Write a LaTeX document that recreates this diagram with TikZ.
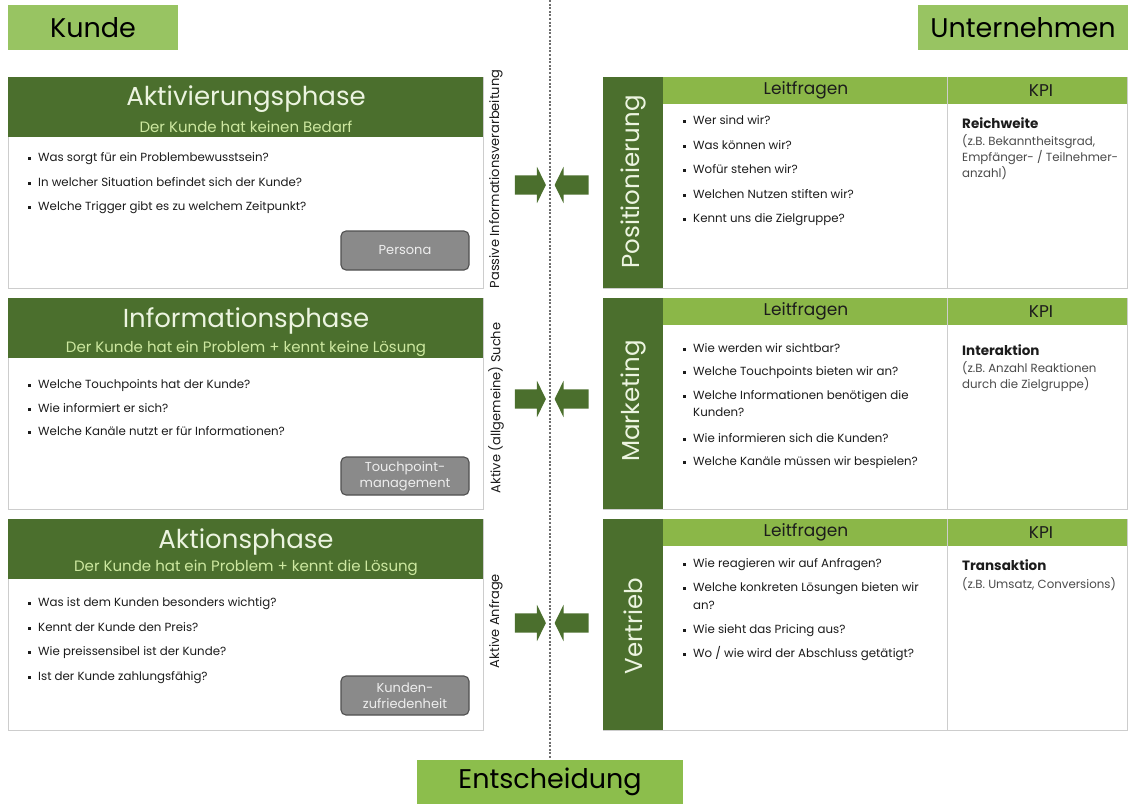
\documentclass[tikz,border=0pt]{standalone}
\usepackage{fontspec}
\setmainfont{Poppins}
\usetikzlibrary{shapes.arrows}

\definecolor{leafdark}{RGB}{75,111,45}
\definecolor{leafmid}{RGB}{139,183,72}
\definecolor{leaflight}{RGB}{152,196,98}
\definecolor{leafbtm}{RGB}{140,190,76}
\definecolor{titlepale}{RGB}{236,244,224}
\definecolor{subpale}{RGB}{205,232,160}
\definecolor{bodytext}{RGB}{28,28,28}
\definecolor{kpigray}{RGB}{75,75,75}
\definecolor{btnfill}{RGB}{138,138,138}
\definecolor{btnedge}{RGB}{80,80,80}
\definecolor{btntext}{RGB}{238,238,238}
\definecolor{frame}{RGB}{205,205,205}
\definecolor{dotline}{RGB}{110,110,110}

% small square bullet with a fixed indent
\newcommand\sq{\makebox[10pt][l]{\raisebox{2pt}{\rule{3pt}{3pt}}}}
\newcommand\ind{\hspace*{10pt}}

\begin{document}
\begin{tikzpicture}[x=1pt,y=-1pt,
  box/.style={inner sep=0pt, outer sep=0pt, anchor=north west},
  topbox/.style={box, fill=leaflight, text=black, font=\fontsize{27}{30}\selectfont},
  panel/.style={box, draw=frame, line width=0.8pt, fill=white},
  darkhead/.style={box, fill=leafdark},
  lighthead/.style={box, fill=leafmid},
  phasetitle/.style={text=titlepale, font=\fontsize{26}{29}\selectfont, inner sep=0pt},
  phasesub/.style={text=subpale, font=\fontsize{15}{17}\selectfont, inner sep=0pt},
  q/.style={anchor=west, inner sep=0pt, text=bodytext, font=\fontsize{11.8}{14}\selectfont,
            text height=8.5pt, text depth=2.7pt},
  kpihead/.style={anchor=west, inner sep=0pt, text=bodytext, font=\fontsize{13.5}{15}\selectfont\bfseries,
            text height=9.5pt, text depth=3pt},
  kpisub/.style={anchor=west, inner sep=0pt, text=kpigray, font=\fontsize{11.8}{13}\selectfont,
            text height=8.5pt, text depth=2.7pt},
  colhead/.style={text=bodytext, font=\fontsize{17}{19}\selectfont, inner sep=0pt},
  sidelabel/.style={rotate=90, text=titlepale, font=\fontsize{24.5}{27}\selectfont, inner sep=0pt},
  flowlabel/.style={rotate=90, text=bodytext, font=\fontsize{13}{15}\selectfont, inner sep=0pt},
  tagbtn/.style={box, fill=btnfill, draw=btnedge, line width=1.1pt, rounded corners=5pt,
            text=btntext, font=\fontsize{13}{16}\selectfont, align=center},
  toright/.style={single arrow, fill=leafdark, inner xsep=0pt, inner ysep=9.5pt,
            minimum height=31pt, single arrow head extend=8.5pt, single arrow tip angle=128,
            outer sep=0pt},
  toleft/.style={toright, shape border rotate=180, minimum height=34pt}
]
\useasboundingbox (0,0) rectangle (1128,804);

% divider between customer and company side
\coordinate (divtop) at (550,0);
\coordinate (divbot) at (550,760);
\draw[dotline, line width=1.2pt, dash pattern=on 2pt off 1.6pt] (divtop) -- (divbot);

% side headings
\node[topbox, minimum width=170pt, minimum height=45pt] (kunde) at (8,5) {Kunde};
\node[topbox, minimum width=210pt, minimum height=45pt] (unternehmen) at (918,5) {Unternehmen};
\node[topbox, fill=leafbtm, minimum width=266pt, minimum height=44pt] (entscheidung) at (417,760) {Entscheidung};

% ---------- customer phases ----------
\node[panel, minimum width=475pt, minimum height=211pt] (p1) at (8,77) {};
\node[darkhead, minimum width=475pt, minimum height=60pt] (p1h) at (8,77) {};
\node[phasetitle] (p1t) at (246,99) {Aktivierungsphase};
\node[phasesub] (p1s) at (246,127) {Der Kunde hat keinen Bedarf};
\node[q] (p1a) at (28,159) {\sq Was sorgt für ein Problembewusstsein?};
\node[q] (p1b) at (28,184) {\sq In welcher Situation befindet sich der Kunde?};
\node[q] (p1c) at (28,208) {\sq Welche Trigger gibt es zu welchem Zeitpunkt?};
\node[tagbtn, minimum width=128pt, minimum height=39pt] (p1btn) at (341,231) {Persona};

\node[panel, minimum width=475pt, minimum height=211pt] (p2) at (8,298) {};
\node[darkhead, minimum width=475pt, minimum height=60pt] (p2h) at (8,298) {};
\node[phasetitle] (p2t) at (246,321) {Informationsphase};
\node[phasesub] (p2s) at (246,349) {Der Kunde hat ein Problem + kennt keine Lösung};
\node[q] (p2a) at (28,386) {\sq Welche Touchpoints hat der Kunde?};
\node[q] (p2b) at (28,410) {\sq Wie informiert er sich?};
\node[q] (p2c) at (28,433) {\sq Welche Kanäle nutzt er für Informationen?};
\node[tagbtn, minimum width=128pt, minimum height=38pt] (p2btn) at (341,457) {Touchpoint-\\management};

\node[panel, minimum width=475pt, minimum height=211pt] (p3) at (8,519) {};
\node[darkhead, minimum width=475pt, minimum height=60pt] (p3h) at (8,519) {};
\node[phasetitle] (p3t) at (246,542) {Aktionsphase};
\node[phasesub] (p3s) at (246,568) {Der Kunde hat ein Problem + kennt die Lösung};
\node[q] (p3a) at (28,604) {\sq Was ist dem Kunden besonders wichtig?};
\node[q] (p3b) at (28,629) {\sq Kennt der Kunde den Preis?};
\node[q] (p3c) at (28,653) {\sq Wie preissensibel ist der Kunde?};
\node[q] (p3d) at (28,678) {\sq Ist der Kunde zahlungsfähig?};
\node[tagbtn, minimum width=128pt, minimum height=39pt] (p3btn) at (341,676) {Kunden-\\zufriedenheit};

% ---------- flow labels and arrows ----------
\node[flowlabel] (f1) at (496,179) {Passive Informationsverarbeitung};
\node[flowlabel] (f2) at (496,408) {Aktive (allgemeine) Suche};
\node[flowlabel] (f3) at (496,621) {Aktive Anfrage};

\node[toright] (a1r) at (528,185) {};
\node[toleft]  (a1l) at (574,185) {};
\node[toright] (a2r) at (528,399) {};
\node[toleft]  (a2l) at (574,399) {};
\node[toright] (a3r) at (528,623) {};
\node[toleft]  (a3l) at (574,623) {};

% ---------- company functions ----------
% Positionierung
\node[panel, minimum width=524pt, minimum height=211pt] (r1) at (603,77) {};
\node[darkhead, minimum width=60pt, minimum height=211pt] (r1col) at (603,77) {};
\node[lighthead, minimum width=464pt, minimum height=27pt] (r1h) at (663,77) {};
\coordinate (r1d1) at (947,77);
\coordinate (r1d2) at (947,288);
\draw[frame, line width=0.8pt] (r1d1) -- (r1d2);
\node[sidelabel] (r1lab) at (633,182) {Positionierung};
\node[colhead] (r1lf) at (806,90.5) {Leitfragen};
\node[colhead] (r1kpi) at (1041,90.5) {KPI};
\node[q] (r1a) at (683,122) {\sq Wer sind wir?};
\node[q] (r1b) at (683,147) {\sq Was können wir?};
\node[q] (r1c) at (683,171) {\sq Wofür stehen wir?};
\node[q] (r1d) at (683,196) {\sq Welchen Nutzen stiften wir?};
\node[q] (r1e) at (683,220) {\sq Kennt uns die Zielgruppe?};
\node[kpihead] (r1k) at (962,125) {Reichweite};
\node[kpisub] (r1k1) at (962,143) {(z.B. Bekanntheitsgrad,};
\node[kpisub] (r1k2) at (962,159) {Empfänger- / Teilnehmer-};
\node[kpisub] (r1k3) at (962,175) {anzahl)};

% Marketing
\node[panel, minimum width=524pt, minimum height=211pt] (r2) at (603,298) {};
\node[darkhead, minimum width=60pt, minimum height=211pt] (r2col) at (603,298) {};
\node[lighthead, minimum width=464pt, minimum height=27pt] (r2h) at (663,298) {};
\coordinate (r2d1) at (947,298);
\coordinate (r2d2) at (947,509);
\draw[frame, line width=0.8pt] (r2d1) -- (r2d2);
\node[sidelabel] (r2lab) at (633,401) {Marketing};
\node[colhead] (r2lf) at (806,311.5) {Leitfragen};
\node[colhead] (r2kpi) at (1041,311.5) {KPI};
\node[q] (r2a) at (683,350) {\sq Wie werden wir sichtbar?};
\node[q] (r2b) at (683,373) {\sq Welche Touchpoints bieten wir an?};
\node[q] (r2c) at (683,397) {\sq Welche Informationen benötigen die};
\node[q] (r2c2) at (683,414) {\ind Kunden?};
\node[q] (r2d) at (683,440) {\sq Wie informieren sich die Kunden?};
\node[q] (r2e) at (683,463) {\sq Welche Kanäle müssen wir bespielen?};
\node[kpihead] (r2k) at (962,352) {Interaktion};
\node[kpisub] (r2k1) at (962,370) {(z.B. Anzahl Reaktionen};
\node[kpisub] (r2k2) at (962,386) {durch die Zielgruppe)};

% Vertrieb
\node[panel, minimum width=524pt, minimum height=211pt] (r3) at (603,519) {};
\node[darkhead, minimum width=60pt, minimum height=211pt] (r3col) at (603,519) {};
\node[lighthead, minimum width=464pt, minimum height=27pt] (r3h) at (663,519) {};
\coordinate (r3d1) at (947,519);
\coordinate (r3d2) at (947,730);
\draw[frame, line width=0.8pt] (r3d1) -- (r3d2);
\node[sidelabel] (r3lab) at (633,626) {Vertrieb};
\node[colhead] (r3lf) at (806,532.5) {Leitfragen};
\node[colhead] (r3kpi) at (1041,532.5) {KPI};
\node[q] (r3a) at (683,565) {\sq Wie reagieren wir auf Anfragen?};
\node[q] (r3b) at (683,589) {\sq Welche konkreten Lösungen bieten wir};
\node[q] (r3b2) at (683,607) {\ind an?};
\node[q] (r3c) at (683,631) {\sq Wie sieht das Pricing aus?};
\node[q] (r3d) at (683,655) {\sq Wo / wie wird der Abschluss getätigt?};
\node[kpihead] (r3k) at (962,567) {Transaktion};
\node[kpisub] (r3k1) at (962,586) {(z.B. Umsatz, Conversions)};

\end{tikzpicture}
\end{document}
